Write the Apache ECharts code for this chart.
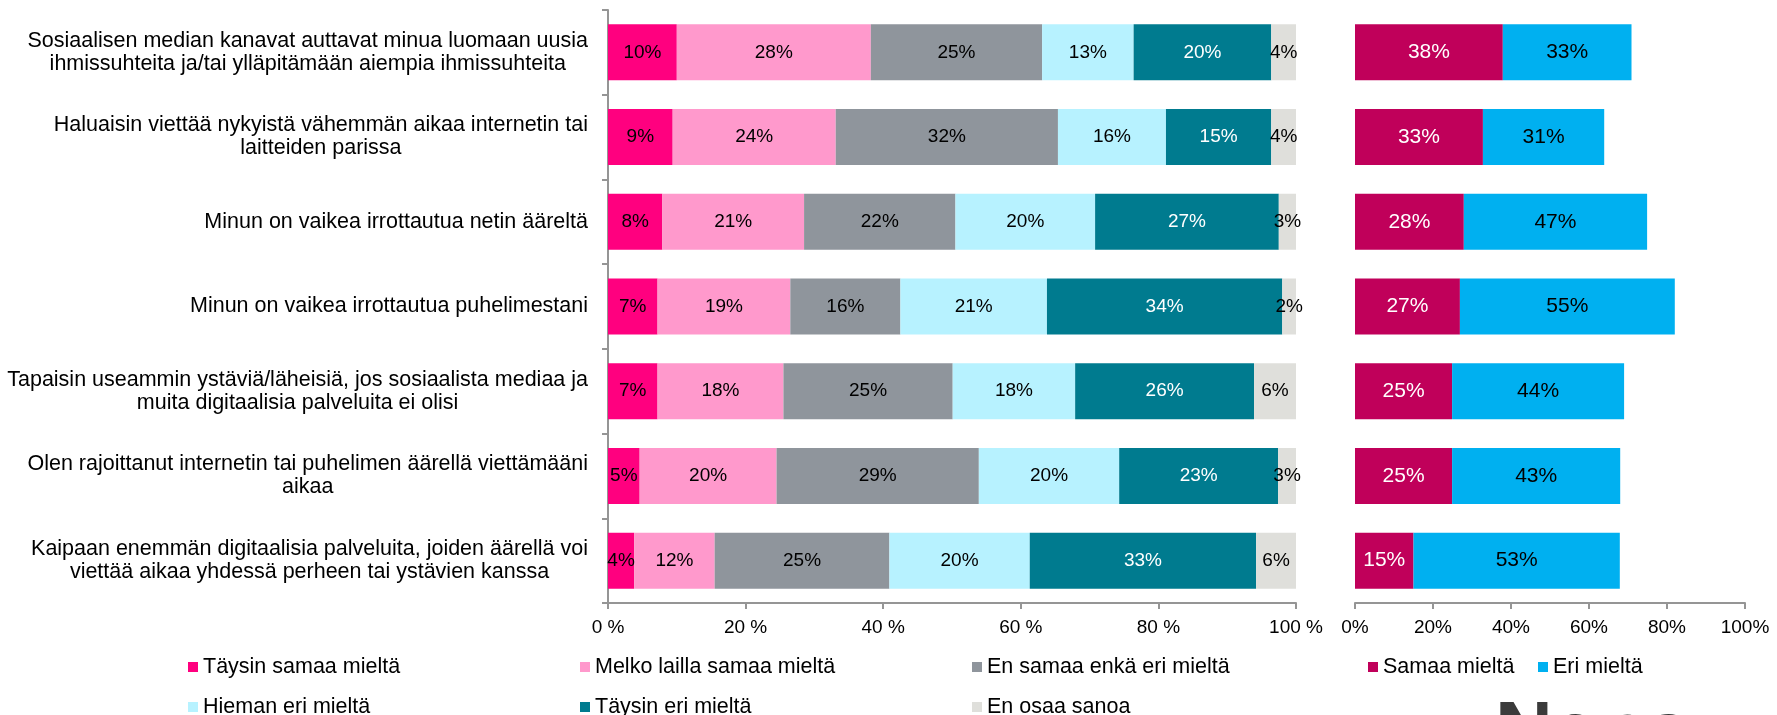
<!DOCTYPE html>
<html>
<head>
<meta charset="utf-8">
<script src="https://cdn.jsdelivr.net/npm/echarts@6/dist/echarts.min.js"></script>
<style>
  html, body { margin: 0; padding: 0; background: #fff; }
  #chart { width: 1777px; height: 715px; }
</style>
</head>
<body>
<div id="chart"></div>
<script>
// kysymykset ylhäältä alas
const categories = [
  'Sosiaalisen median kanavat auttavat minua luomaan uusia\nihmissuhteita ja/tai ylläpitämään aiempia ihmissuhteita',
  'Haluaisin viettää nykyistä vähemmän aikaa internetin tai\nlaitteiden parissa',
  'Minun on vaikea irrottautua netin ääreltä',
  'Minun on vaikea irrottautua puhelimestani',
  'Tapaisin useammin ystäviä/läheisiä, jos sosiaalista mediaa ja\nmuita digitaalisia palveluita ei olisi',
  'Olen rajoittanut internetin tai puhelimen äärellä viettämääni\naikaa',
  'Kaipaan enemmän digitaalisia palveluita, joiden äärellä voi\nviettää aikaa yhdessä perheen tai ystävien kanssa'
]

// vasen kuvaaja, % vastaajista
const fullyAgree       = [10.0,  9.4,  7.9,  7.2,  7.2,  4.6,  3.8]
const ratherAgree      = [28.2, 23.7, 20.6, 19.3, 18.3, 19.9, 11.7]
const neutral          = [24.9, 32.3, 22.0, 16.0, 24.6, 29.4, 25.4]
const slightlyDisagree = [13.3, 15.7, 20.3, 21.3, 17.8, 20.4, 20.4]
const fullyDisagree    = [20.0, 15.3, 26.7, 34.2, 26.0, 23.1, 32.9]
const dontKnow         = [ 3.6,  3.6,  2.5,  2.0,  6.1,  2.6,  5.8]

// oikea kuvaaja
const agreeTotal    = [37.9, 32.8, 27.9, 26.9, 24.9, 24.9, 15.0]
const disagreeTotal = [33.0, 31.1, 47.0, 55.1, 44.1, 43.1, 52.9]

const xTicks = [0, 20, 40, 60, 80, 100]

const leftNames = ['Täysin samaa mieltä', 'Melko lailla samaa mieltä', 'En samaa enkä eri mieltä',
  'Hieman eri mieltä', 'Täysin eri mieltä', 'En osaa sanoa']
const leftData = [fullyAgree, ratherAgree, neutral, slightlyDisagree, fullyDisagree, dontKnow]
const leftColors = ['#ff007f', '#ff99cc', '#8f959c', '#b7f2ff', '#007b8f', '#dfdfdb']
const rightNames = ['Samaa mieltä', 'Eri mieltä']
const rightData = [agreeTotal, disagreeTotal]
const rightColors = ['#c0005a', '#00b0f0']

const font = 'Liberation Sans'
const axisGray = '#959595'

const chart = echarts.init(document.getElementById('chart'))

const xAxisBase = (gridIndex, suffix) => ({
  gridIndex,
  type: 'value',
  min: xTicks[0],
  max: xTicks[xTicks.length - 1],
  interval: xTicks[1] - xTicks[0],
  axisLine: { show: true, lineStyle: { color: axisGray, width: 2 } },
  axisTick: { show: true, length: 6, lineStyle: { color: axisGray, width: 2 } },
  splitLine: { show: false },
  axisLabel: {
    margin: 15,
    fontSize: 19,
    fontFamily: font,
    color: '#000',
    formatter: v => v + suffix
  }
})

chart.setOption({
  animation: false,
  textStyle: { fontFamily: font },
  grid: [
    { left: 608, right: 481, top: 10, bottom: 112 },
    { left: 1355, right: 32, top: 10, bottom: 112 }
  ],
  xAxis: [xAxisBase(0, ' %'), xAxisBase(1, '%')],
  yAxis: [
    {
      gridIndex: 0,
      type: 'category',
      inverse: true,
      data: categories,
      axisLine: { show: true, lineStyle: { color: axisGray, width: 2 } },
      axisTick: { show: true, length: 6, lineStyle: { color: axisGray, width: 2 } },
      axisLabel: {
        margin: 20,
        fontSize: 21.5,
        lineHeight: 23,
        color: '#000',
        fontFamily: font,
        // rivit keskitetään toistensa suhteen, kuten Excelissä
        formatter: v => v.split('\n').map(l => '{c|' + l + '}').join('\n'),
        rich: {
          c: { align: 'center', fontSize: 21.5, lineHeight: 23, color: '#000', fontFamily: font }
        }
      }
    },
    {
      gridIndex: 1,
      type: 'category',
      inverse: true,
      data: categories,
      axisLine: { show: false },
      axisTick: { show: false },
      axisLabel: { show: false }
    }
  ],
  legend: [
    {
      left: 188,
      top: 647,
      width: 1200,
      padding: 0,
      itemGap: 0,
      icon: 'rect',
      itemWidth: 10,
      itemHeight: 10,
      selectedMode: false,
      data: leftNames,
      textStyle: { fontSize: 21.5, color: '#000', fontFamily: font, width: 377, lineHeight: 40 }
    },
    {
      left: 1368,
      top: 647,
      width: 400,
      padding: 0,
      itemGap: 0,
      icon: 'rect',
      itemWidth: 10,
      itemHeight: 10,
      selectedMode: false,
      data: rightNames,
      textStyle: { fontSize: 21.5, color: '#000', fontFamily: font, width: 155, lineHeight: 40 }
    }
  ],
  graphic: [
    {
      type: 'text',
      left: 1495,
      top: 695,
      silent: true,
      style: { text: 'Nepa', font: 'bold 80px Liberation Sans', fill: '#3b3b3b' }
    }
  ],
  series: [
    ...leftNames.map((name, i) => ({
      name,
      type: 'bar',
      stack: 'left',
      xAxisIndex: 0,
      yAxisIndex: 0,
      barWidth: 56,
      itemStyle: { color: leftColors[i] },
      label: {
        show: true,
        position: 'inside',
        fontSize: 19,
        fontFamily: font,
        color: i === 4 ? '#fff' : '#000',
        formatter: p => Math.round(p.value) + '%'
      },
      data: leftData[i]
    })),
    ...rightNames.map((name, i) => ({
      name,
      type: 'bar',
      stack: 'right',
      xAxisIndex: 1,
      yAxisIndex: 1,
      barWidth: 56,
      itemStyle: { color: rightColors[i] },
      label: {
        show: true,
        position: 'inside',
        fontSize: 21,
        fontFamily: font,
        color: i === 0 ? '#fff' : '#000',
        formatter: p => Math.round(p.value) + '%'
      },
      data: rightData[i]
    }))
  ]
})
</script>
</body>
</html>
